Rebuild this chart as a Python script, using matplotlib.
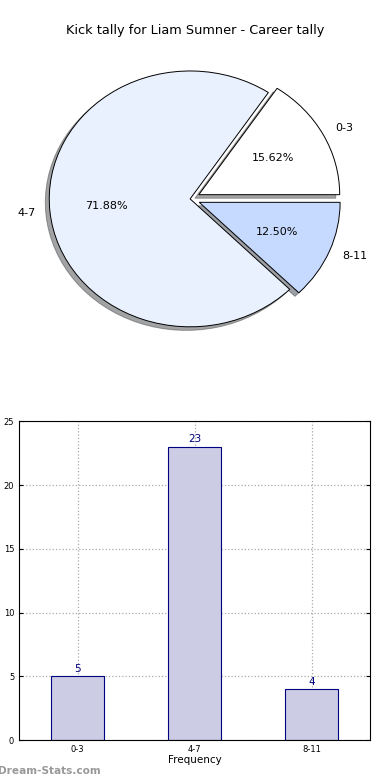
import matplotlib
matplotlib.use("Agg")
import matplotlib.pyplot as plt
import numpy as np

# kick tally data
categories = ["0-3", "4-7", "8-11"]
counts = [5, 23, 4]
slice_colors = ["#FFFFFF", "#EAF1FE", "#C6D9FE"]
title = "Kick tally for Liam Sumner - Career tally"

fig = plt.figure(figsize=(3.9, 7.8), dpi=100)

# pie chart (not equal aspect, like the old renders)
ax1 = fig.add_axes([0.036, 0.54, 0.903, 0.41])
ax1.pie(counts, labels=categories, colors=slice_colors, explode=[0.07, 0.0, 0.07],
        autopct="%.2f%%", shadow=True, startangle=0, labeldistance=1.1, pctdistance=0.6,
        wedgeprops={"edgecolor": "black", "linewidth": 0.7},
        textprops={"fontsize": 8})
ax1.set_aspect("auto")
ax1.set_xlim(-1.25, 1.25)
ax1.set_ylim(-1.25, 1.25)
ax1.axis("off")
fig.text(0.5, 0.961, title, ha="center", va="center", fontsize=9.3)

# bar chart
ax2 = fig.add_axes([0.049, 0.051, 0.9, 0.409])
x = np.arange(len(categories))
ax2.bar(x, counts, width=0.45, color="#CCCCE4", edgecolor="#000080", linewidth=0.8, zorder=2)
for xi, c in zip(x, counts):
    ax2.text(xi, c + 0.2, str(c), ha="center", va="bottom", color="#000080", fontsize=7.5, zorder=3)
ax2.set_xlim(-0.5, 2.5)
ax2.set_ylim(0, 25)
ax2.set_xticks(x)
ax2.set_xticklabels(categories)
ax2.set_yticks([0, 5, 10, 15, 20, 25])
ax2.tick_params(labelsize=6, direction="in", length=3, right=True, top=False)
ax2.grid(True, linestyle=":", color="#AAAAAA", linewidth=0.9, zorder=0)
ax2.set_xlabel("Frequency", fontsize=7.5, labelpad=1)
ax2.set_ylabel("Occurrences", fontsize=7.5)
ax2.yaxis.set_label_coords(-0.05, 0.5)

fig.text(-0.005, 0.012, "Dream-Stats.com", color="#999999", fontsize=7.6, fontweight="bold",
         ha="left", va="center")

fig.savefig("out.png", dpi=100)
